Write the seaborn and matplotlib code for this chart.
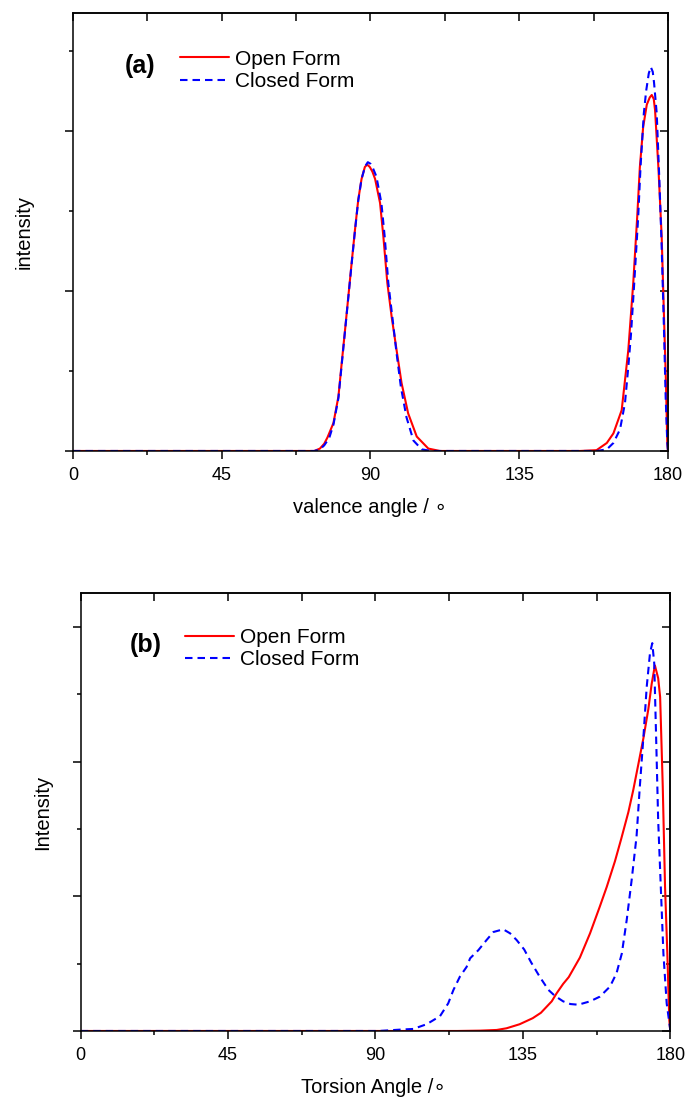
import numpy as np
import pandas as pd
import matplotlib
matplotlib.use("Agg")
import matplotlib.pyplot as plt
import seaborn as sns
from matplotlib.ticker import MultipleLocator

# ---------------- data ----------------
# panel (a): valence angle distribution
a_open_x = [0, 73, 74.7, 76, 77, 78.8, 80.3, 81.3, 82.3, 83.3, 84.3, 85.3, 86.3, 87.3, 88.3, 89.0,
            89.8, 90.6, 91.4, 92.9, 93.9, 95.1, 96.4, 97.9, 99.4, 101.4, 104.0, 107.5, 111, 153.4,
            158.4, 161.5, 163.5, 166.0, 168.0, 169.5, 170.7, 171.5, 172.5, 173.6, 174.5, 175.1,
            175.7, 176.1, 177.1, 178.1, 178.8, 179.4, 179.8, 180]
a_open_y = [0, 0, 0.03, 0.09, 0.17, 0.35, 0.68, 1.10, 1.51, 1.93, 2.35, 2.76, 3.14, 3.40, 3.55, 3.58,
            3.55, 3.49, 3.40, 3.10, 2.68, 2.10, 1.68, 1.26, 0.85, 0.47, 0.18, 0.03, 0, 0,
            0.01, 0.10, 0.22, 0.51, 1.26, 2.10, 2.93, 3.55, 4.05, 4.33, 4.42, 4.45,
            4.40, 4.26, 3.55, 2.68, 1.68, 0.85, 0.10, 0]
a_closed_x = [0, 73, 74.7, 76, 77.5, 78.8, 80.3, 81.3, 82.3, 83.3, 84.3, 85.3, 86.3, 87.3, 88.4,
              89.2, 90.0, 90.8, 91.8, 93.3, 94.3, 95.4, 96.6, 97.9, 99.2, 100.9, 103.0, 105.5,
              108.5, 158.5, 161.5, 163.5, 165.5, 167.0, 168.0, 168.8, 169.8, 171.0, 171.7, 172.7,
              173.4, 174.2, 174.8, 175.4, 175.8, 176.6, 177.4, 178.1, 178.8, 179.3, 179.8, 180]
a_closed_y = [0, 0, 0.02, 0.07, 0.16, 0.33, 0.66, 1.08, 1.50, 1.92, 2.34, 2.75, 3.13, 3.40, 3.56,
              3.61, 3.59, 3.53, 3.43, 3.10, 2.68, 2.10, 1.68, 1.22, 0.80, 0.42, 0.13, 0.02,
              0, 0, 0.02, 0.10, 0.27, 0.60, 1.05, 1.45, 2.10, 2.93, 3.55, 4.22,
              4.50, 4.72, 4.80, 4.74, 4.60, 4.22, 3.39, 2.55, 1.51, 0.68, 0.10, 0]

# panel (b): torsion angle distribution
b_open_x = [0, 115, 122, 127, 130, 134, 138, 140.5, 143.8, 145.3, 147.3, 149, 152.4, 155.5, 158.5,
            160.6, 163.1, 165.0, 167.2, 168.7, 170.2, 171.8, 173.3, 174.3, 175.3, 176.3, 176.9,
            177.7, 178.4, 179.1, 179.7, 180]
b_open_y = [0, 0, 0.005, 0.015, 0.04, 0.10, 0.19, 0.27, 0.44, 0.56, 0.70, 0.80, 1.09, 1.45, 1.85,
            2.14, 2.52, 2.85, 3.25, 3.58, 3.95, 4.35, 4.78, 5.15, 5.43, 5.24, 4.96,
            3.63, 2.14, 1.15, 0.16, 0]
b_closed_x = [0, 91, 97.5, 101.5, 105.6, 109.7, 112.2, 113.8, 115.8, 117.8, 118.9, 121.4, 123.9,
              126.0, 129.0, 131.1, 133.1, 135.4, 137.5, 140.2, 142.8, 144.8, 147.3, 149.5, 151.9,
              155.5, 158.5, 161.6, 163.6, 165.2, 166.7, 168.2, 169.7, 170.7, 171.8, 172.8, 173.8,
              174.5, 175.1, 175.8, 176.3, 177.1, 177.9, 178.9, 179.9, 180]
b_closed_y = [0, 0, 0.02, 0.03, 0.10, 0.22, 0.41, 0.61, 0.81, 0.95, 1.08, 1.20, 1.35,
              1.47, 1.51, 1.45, 1.35, 1.21, 1.02, 0.80, 0.61, 0.52, 0.44, 0.40, 0.39,
              0.44, 0.51, 0.66, 0.86, 1.15, 1.65, 2.24, 2.89, 3.63, 4.37, 5.11, 5.61,
              5.76, 5.46, 4.12, 3.13, 2.14, 1.15, 0.41, 0.05, 0]

series_labels = ["Open Form", "Closed Form"]
x_ticks = [0, 45, 90, 135, 180]
panel_tags = ["(a)", "(b)"]
x_labels = ["valence angle / \u2218", "Torsion Angle /\u2218"]
y_labels = ["intensity", "Intensity"]

# ---------------- style ----------------
sns.set_theme(style="ticks")
plt.rcParams["font.family"] = ["Liberation Sans", "DejaVu Sans"]
plt.rcParams.update({
    "axes.edgecolor": "black", "axes.linewidth": 1.1,
    "xtick.color": "black", "ytick.color": "black",
    "text.color": "black", "axes.labelcolor": "black",
})

RED = "#ff0000"
BLUE = "#0000ff"

fig = plt.figure(figsize=(6.86, 11.01), dpi=100)
ax1 = fig.add_axes([0.1064, 0.5904, 0.8673, 0.3978])
ax2 = fig.add_axes([0.1176, 0.0636, 0.8595, 0.3975])

panels = [
    (ax1, a_open_x, a_open_y, a_closed_x, a_closed_y, 5.475,
     (0.180, 0.916), (0.112, 0.880), (-0.0655, 0.5), (0.5, -0.107)),
    (ax2, b_open_x, b_open_y, b_closed_x, b_closed_y, 6.5,
     (0.177, 0.921), (0.111, 0.881), (-0.0487, 0.5), (0.497, -0.107)),
]

for i, (ax, ox, oy, cx, cy, ymax, leg_anchor, tag_xy, ylab_xy, xlab_xy) in enumerate(panels):
    df_o = pd.DataFrame({"x": ox, "y": oy})
    df_c = pd.DataFrame({"x": cx, "y": cy})
    sns.lineplot(data=df_o, x="x", y="y", ax=ax, color=RED, lw=1.5,
                 estimator=None, sort=False, label=series_labels[0])
    sns.lineplot(data=df_c, x="x", y="y", ax=ax, color=BLUE, lw=1.5,
                 estimator=None, sort=False, label=series_labels[1], linestyle="--")
    lines = ax.get_lines()
    lines[1].set_dashes((3.6, 2.4))

    ax.set_xlim(0, 180)
    ax.set_ylim(0, ymax)
    ax.set_xticks(x_ticks)
    ax.set_xticklabels([str(t) for t in x_ticks])
    ax.xaxis.set_minor_locator(MultipleLocator(22.5))
    ax.yaxis.set_major_locator(MultipleLocator(2))
    ax.yaxis.set_minor_locator(MultipleLocator(1))
    ax.tick_params(axis="x", which="major", direction="out", length=6, width=1.1,
                   labelsize=13, pad=5.5, bottom=True, top=False)
    ax.tick_params(axis="x", which="minor", direction="out", length=3, width=1.1,
                   bottom=True, top=False)
    ax.tick_params(axis="y", which="major", direction="out", length=6, width=1.1,
                   left=True, right=False, labelleft=False)
    ax.tick_params(axis="y", which="minor", direction="out", length=3, width=1.1,
                   left=True, right=False)

    sx = ax.secondary_xaxis("top")
    sx.set_xticks(np.arange(0, 181, 22.5))
    sx.tick_params(axis="x", which="major", direction="in", length=6, width=1.1,
                   labeltop=False)
    sx.tick_params(axis="x", which="minor", length=0)
    sy = ax.secondary_yaxis("right")
    sy.yaxis.set_major_locator(MultipleLocator(2))
    sy.yaxis.set_minor_locator(MultipleLocator(1))
    sy.tick_params(axis="y", which="major", direction="in", length=6, width=1.1,
                   labelright=False)
    sy.tick_params(axis="y", which="minor", direction="in", length=3, width=1.1)

    for sp in ax.spines.values():
        sp.set_visible(True)
        sp.set_linewidth(1.1)
        sp.set_color("black")

    ax.set_xlabel(x_labels[i], fontsize=14.5)
    ax.set_ylabel(y_labels[i], fontsize=14.5)
    ax.xaxis.set_label_coords(*xlab_xy)
    ax.yaxis.set_label_coords(*ylab_xy)

    ax.legend(loc="upper left", bbox_to_anchor=leg_anchor, frameon=False, fontsize=15,
              handlelength=2.35, handletextpad=0.3, labelspacing=0.15,
              borderpad=0, borderaxespad=0)
    ax.text(tag_xy[0], tag_xy[1], panel_tags[i], transform=ax.transAxes,
            fontsize=18, fontweight="bold", ha="center", va="center")

fig.savefig("out.png", dpi=100)
